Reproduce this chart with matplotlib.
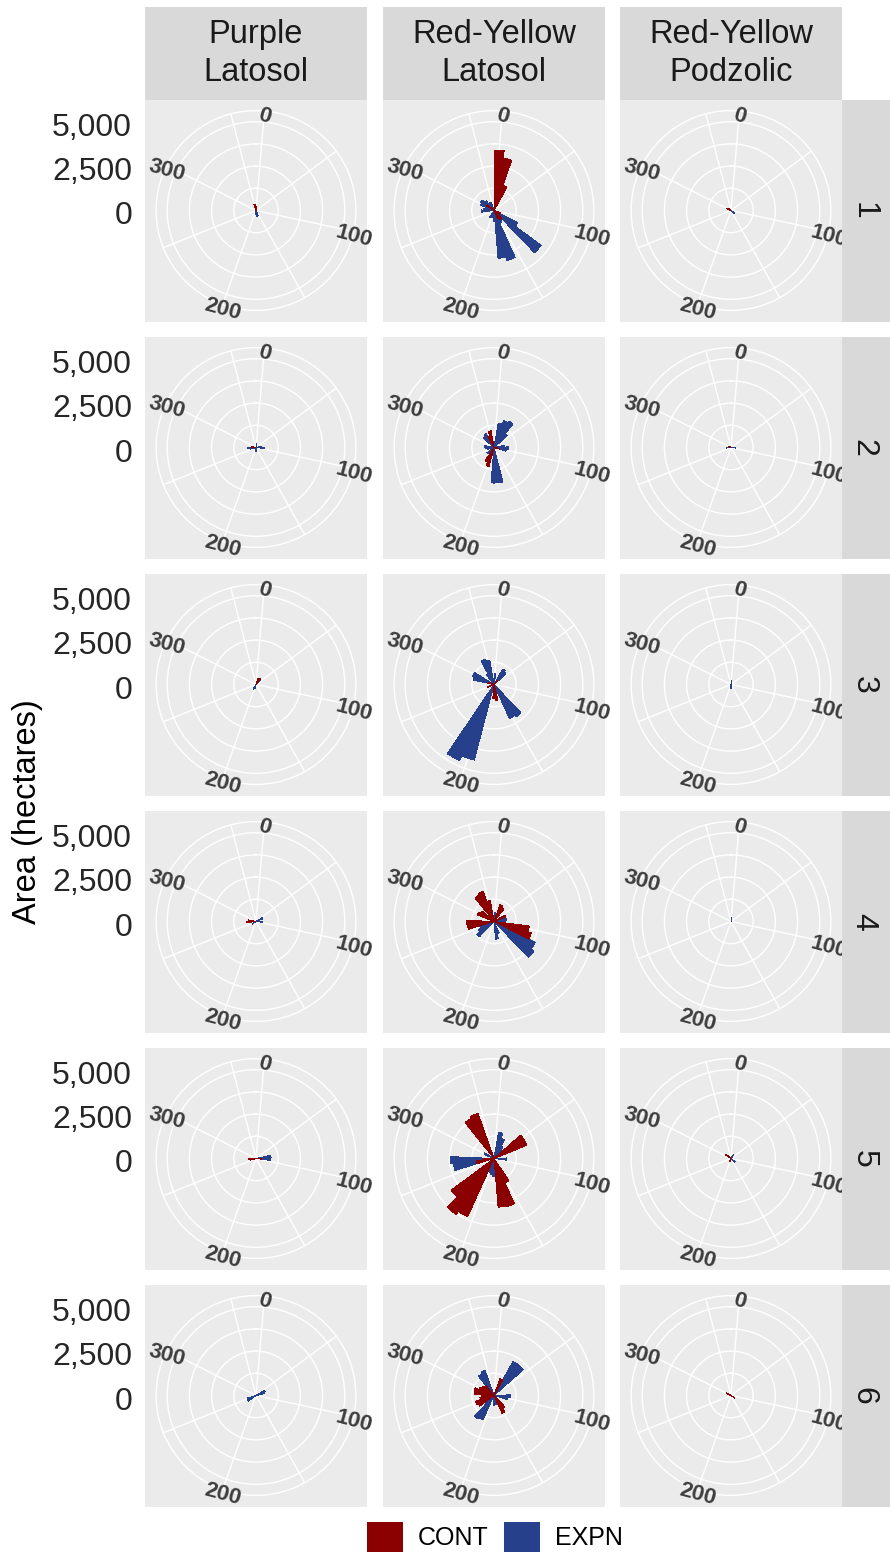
import matplotlib.pyplot as plt
import matplotlib.transforms as mtransforms
from matplotlib.patches import Patch
import numpy as np

plt.rcParams['font.family'] = ['Liberation Sans', 'DejaVu Sans']

# aspect classes (degrees), bars are 10 wide
directions = np.arange(0, 361, 10)
soils = ["Purple\nLatosol", "Red-Yellow\nLatosol", "Red-Yellow\nPodzolic"]
periods = ["1", "2", "3", "4", "5", "6"]
r_breaks = [0, 2500, 5000]
theta_breaks = [0, 100, 200, 300]

# area (hectares) per aspect class, one dict per period; missing classes are 0
cont_purple = [
    {350: 350, 0: 250},
    {280: 250, 270: 200},
    {20: 350, 30: 400},
    {270: 550, 280: 450},
    {270: 450, 260: 300, 90: 300},
    {},
]
expn_purple = [
    {160: 300, 170: 350, 180: 250},
    {80: 300, 90: 500, 260: 300, 270: 500, 0: 200, 180: 200},
    {200: 250, 210: 300, 40: 350},
    {60: 400, 90: 350, 240: 250},
    {80: 850, 90: 800, 270: 250},
    {60: 550, 70: 500, 240: 550, 250: 500},
]
cont_rylat = [
    {0: 3400, 10: 3000, 20: 1500, 110: 400, 140: 600, 150: 500, 310: 500},
    {340: 700, 350: 950, 200: 1100, 210: 900, 100: 300},
    {170: 900, 180: 800, 250: 400, 40: 300, 290: 350},
    {330: 1700, 340: 1800, 350: 1200, 20: 1000, 30: 900, 260: 1500,
     270: 1550, 300: 1000, 310: 900, 100: 2000, 110: 2200, 60: 700},
    {330: 2600, 340: 2700, 50: 2000, 60: 2000, 150: 1500, 160: 2800,
     170: 2750, 210: 3600, 220: 3800, 230: 3000, 260: 1000, 270: 600},
    {240: 1000, 250: 1100, 260: 800, 270: 700, 280: 1100, 290: 1150,
     300: 900, 310: 800, 320: 700, 140: 900, 150: 1100, 20: 1000},
]
expn_rylat = [
    {120: 1500, 130: 3300, 140: 700, 150: 800, 160: 2900, 170: 2700,
     180: 600, 200: 400, 210: 450, 270: 700, 280: 600, 290: 500,
     300: 800, 310: 900, 320: 700, 330: 400, 340: 500},
    {10: 1400, 20: 1600, 30: 1700, 40: 1000, 80: 600, 90: 800, 100: 700,
     170: 2000, 180: 2000, 230: 500, 260: 400, 270: 500, 280: 550,
     320: 800, 330: 900},
    {200: 4400, 210: 4700, 340: 1500, 350: 1400, 330: 700, 30: 1000,
     40: 900, 290: 1200, 300: 1300, 140: 2200, 150: 2100, 0: 600},
    {120: 2600, 130: 2800, 160: 700, 170: 1000, 230: 1200, 240: 1000,
     250: 800, 70: 600, 80: 700, 0: 500, 10: 450, 350: 400},
    {260: 2300, 270: 2450, 10: 1500, 20: 1200, 30: 800, 40: 600, 90: 700,
     180: 1000, 190: 900, 200: 800, 300: 600},
    {30: 2200, 40: 2200, 330: 1400, 340: 1500, 210: 1500, 220: 1600,
     90: 950, 100: 800, 170: 500, 180: 550},
]
cont_rypod = [
    {300: 250, 310: 200},
    {300: 150},
    {},
    {},
    {310: 350, 320: 250, 200: 200},
    {300: 300, 120: 250},
]
expn_rypod = [
    {120: 250, 130: 200},
    {90: 250, 270: 250},
    {0: 200, 180: 250},
    {0: 200, 10: 150},
    {130: 300, 30: 250},
    {},
]

cont_all = [cont_purple, cont_rylat, cont_rypod]
expn_all = [expn_purple, expn_rylat, expn_rypod]

CONT_COL = '#8B0000'
EXPN_COL = '#27408B'

W, H = 890, 1558
fig = plt.figure(figsize=(W / 100, H / 100), dpi=100)


def rect(x0, y0, w, h):
    return [x0 / W, 1 - (y0 + h) / H, w / W, h / H]


col_x = [145, 383, 620]
row_y = [99.5, 336.5, 573.5, 810.5, 1047.5, 1284.5]
size = 222

# theta scale: bars of width 10 on classes 0..360 -> range -5..365
t_lo, t_hi = -5, 365
r_top = 5000
r_out = r_top * 0.45 / 0.4


def to_theta(v):
    return (np.asarray(v, dtype=float) - t_lo) / (t_hi - t_lo) * 2 * np.pi


bar_w = 10 / (t_hi - t_lo) * 2 * np.pi

for i in range(6):
    for j in range(3):
        x0, y0 = col_x[j], row_y[i]
        bg = fig.add_axes(rect(x0, y0, size, size))
        bg.set_facecolor('#EBEBEB')
        bg.set_xticks([])
        bg.set_yticks([])
        for s in bg.spines.values():
            s.set_visible(False)

        inner = size * 0.9
        ax = fig.add_axes(rect(x0 + (size - inner) / 2, y0 + (size - inner) / 2,
                               inner, inner), projection='polar')
        ax.set_facecolor('none')
        ax.set_theta_zero_location('N')
        ax.set_theta_direction(-1)
        ax.set_rlim(0, r_out)
        ax.set_axisbelow(True)
        ax.set_rgrids([1250, 2500, 3750, 5000], labels=[])
        ax.set_thetagrids(np.degrees(to_theta(np.arange(0, 360, 50))), labels=[])
        ax.grid(color='white', linewidth=1.0)
        ax.spines['polar'].set_color('white')
        ax.spines['polar'].set_linewidth(1.0)
        ax.tick_params(length=0)

        expn = np.array([expn_all[j][i].get(v, 0) for v in directions])
        cont = np.array([cont_all[j][i].get(v, 0) for v in directions])
        ax.bar(to_theta(directions), expn, width=bar_w, color=EXPN_COL,
               linewidth=0, antialiased=False, zorder=2)
        ax.bar(to_theta(directions), cont, width=bar_w, color=CONT_COL,
               linewidth=0, antialiased=False, zorder=3)

        lab_tr = mtransforms.offset_copy(ax.transData, fig=fig, x=0, y=-5,
                                         units='dots')
        for v in theta_breaks:
            ax.text(to_theta(v), r_out, str(v), transform=lab_tr,
                    rotation=-15, ha='center', va='center', fontsize=16,
                    fontweight='bold', color='#3D3D3D', clip_on=False)

        if j == 0:
            for r in r_breaks:
                _, yd = ax.transData.transform((0, r))
                fig.text(132 / W, (yd - 6) / H, f"{r:,}", ha='right',
                         va='center', fontsize=23, color='#262626')

    # right strip
    sa = fig.add_axes(rect(842, row_y[i], W - 842, size), zorder=5)
    sa.set_facecolor('#D9D9D9')
    sa.set_xticks([])
    sa.set_yticks([])
    for s in sa.spines.values():
        s.set_visible(False)
    sa.text(0.45, 0.5, periods[i], rotation=270, ha='center', va='center',
            fontsize=23, color='#1A1A1A', transform=sa.transAxes)

for j in range(3):
    st = fig.add_axes(rect(col_x[j], 7, size, row_y[0] - 7), zorder=5)
    st.set_facecolor('#D9D9D9')
    st.set_xticks([])
    st.set_yticks([])
    for s in st.spines.values():
        s.set_visible(False)
    st.text(0.5, 0.5, soils[j], ha='center', va='center', fontsize=23.5,
            color='#1A1A1A', linespacing=1.3, transform=st.transAxes)

fig.text(28 / W, 1 - 812 / H, "Area (hectares)", rotation=90, ha='center',
         va='center', fontsize=23.5, color='black')

handles = [Patch(facecolor=CONT_COL, label='CONT'),
           Patch(facecolor=EXPN_COL, label='EXPN')]
fig.legend(handles=handles, loc='center', bbox_to_anchor=(495 / W, 1 - 1537 / H),
           ncol=2, frameon=False, fontsize=18, handlelength=1.45,
           handleheight=1.45, handletextpad=0.6, columnspacing=0.6)

fig.savefig('out.png', dpi=100)
